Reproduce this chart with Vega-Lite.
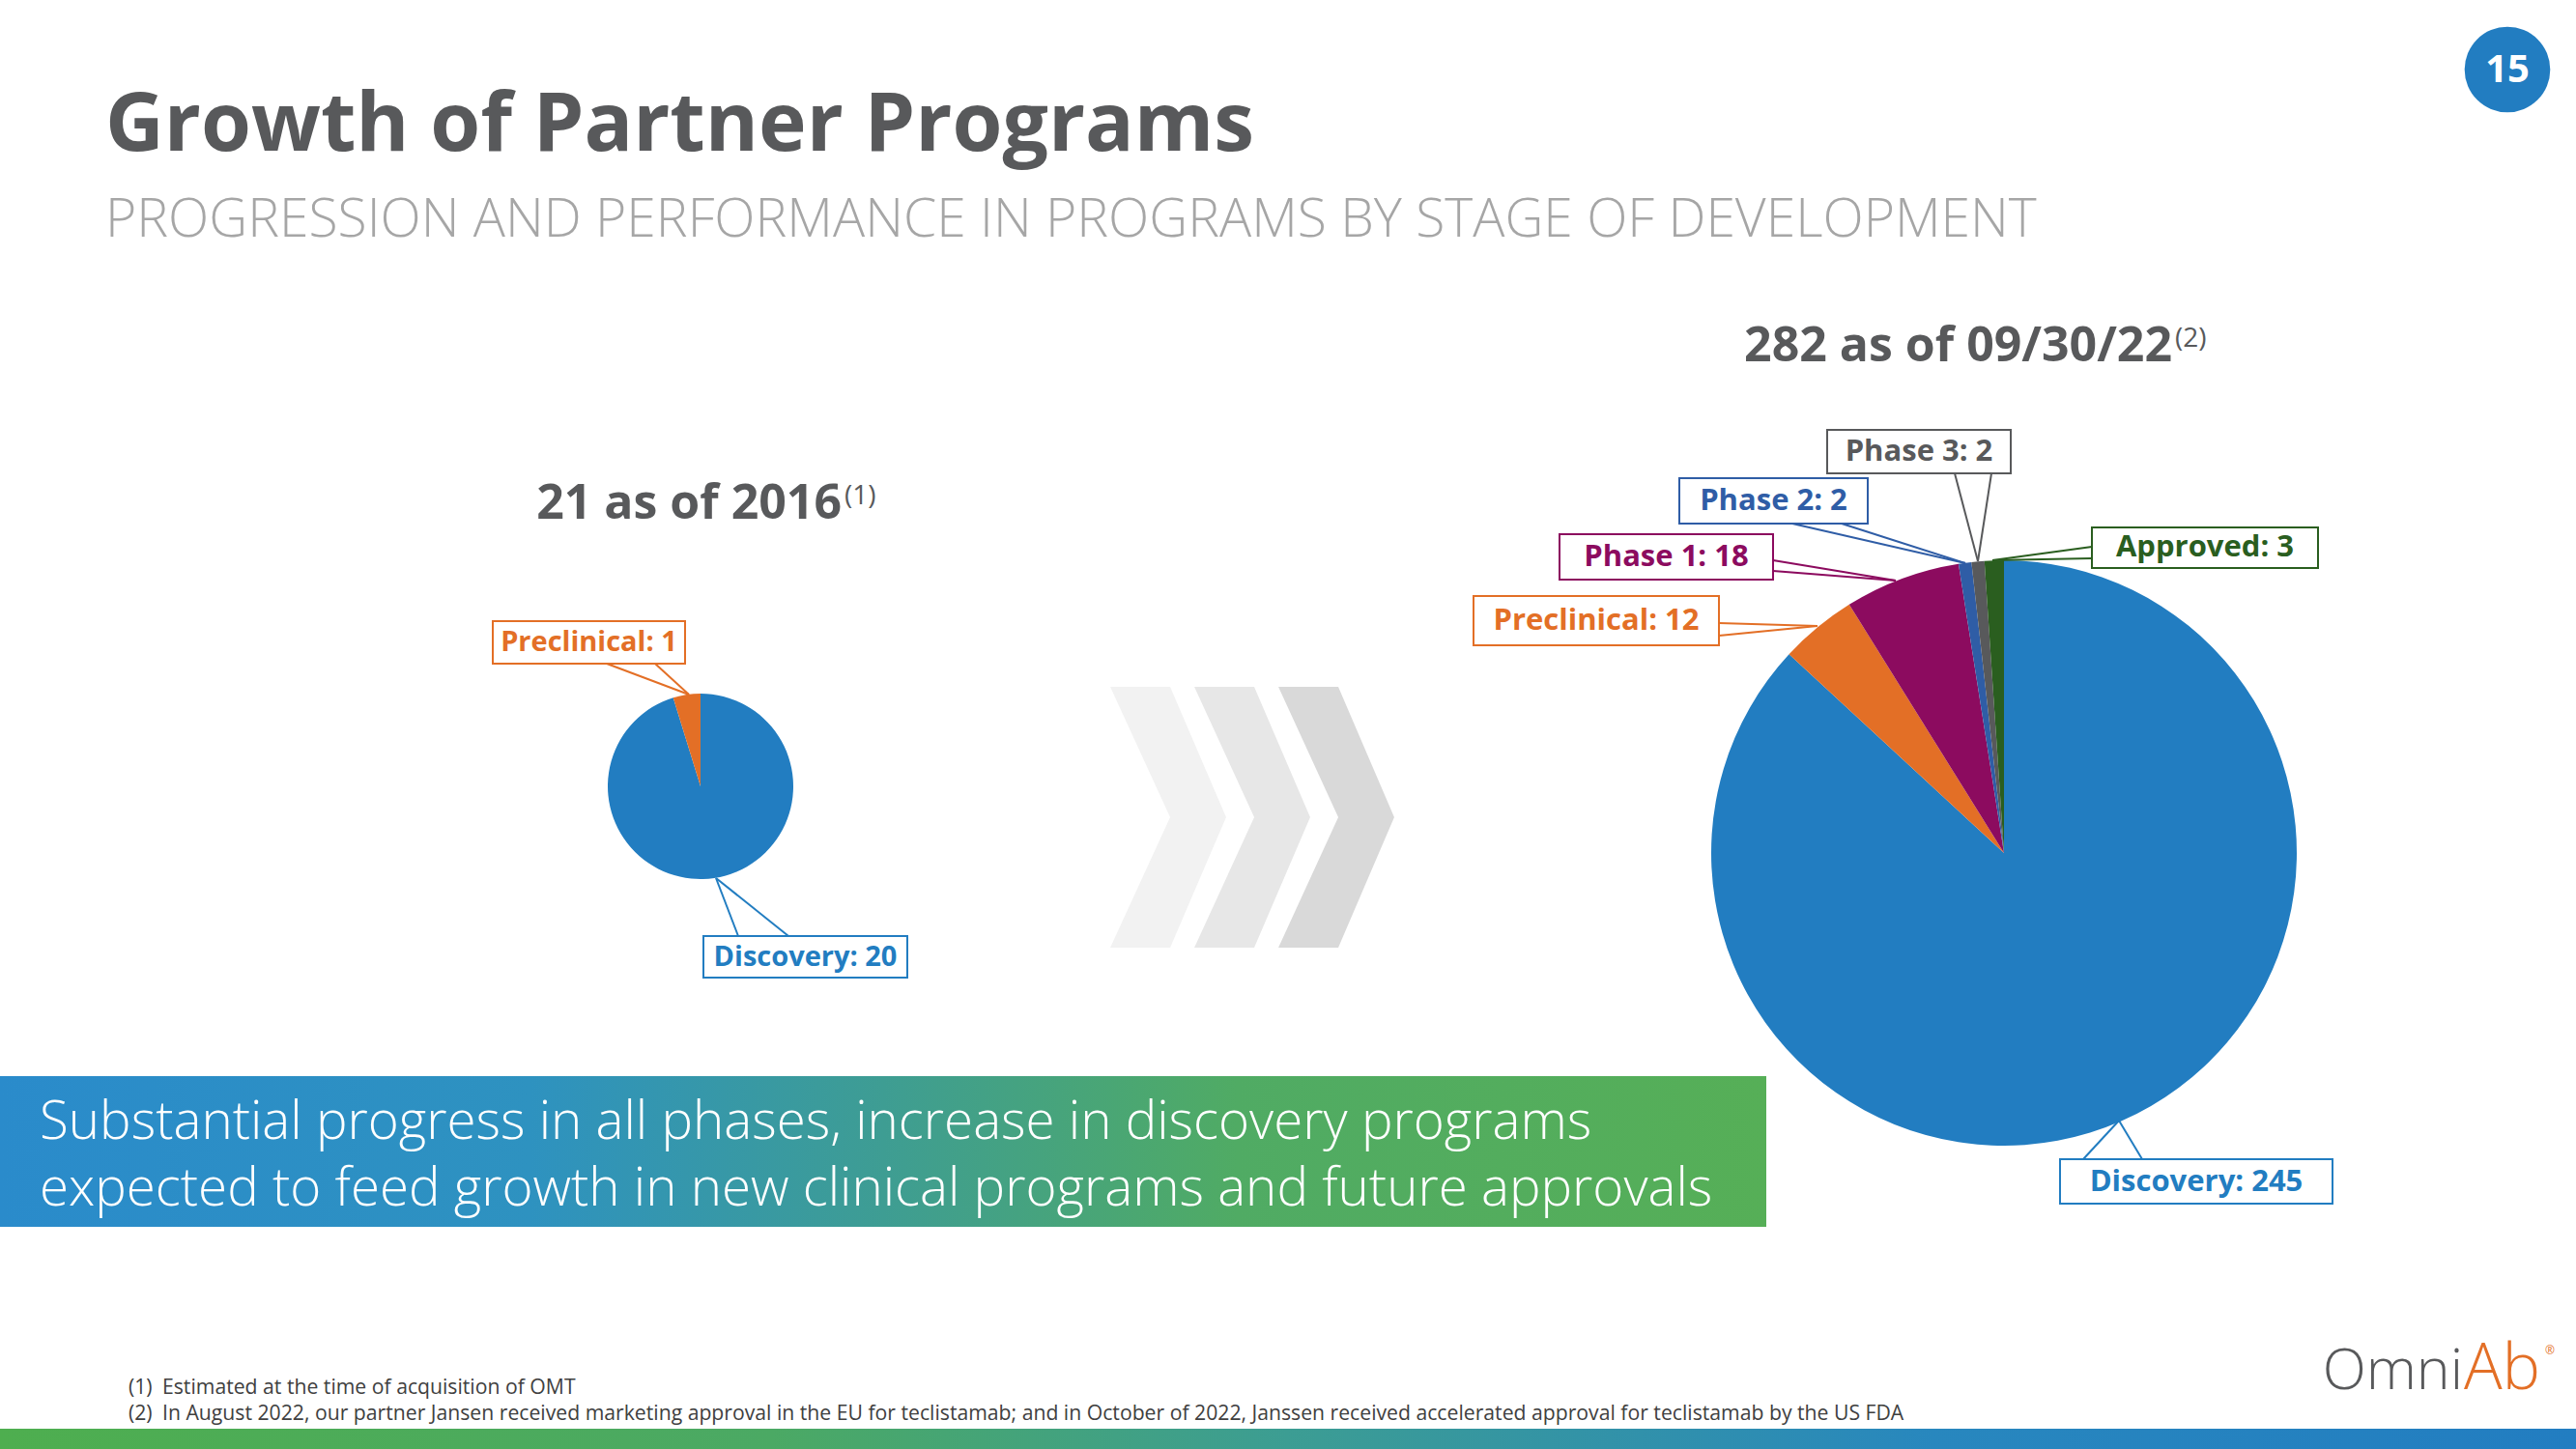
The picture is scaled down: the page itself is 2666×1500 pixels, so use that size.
{
  "$schema": "https://vega.github.io/schema/vega-lite/v6.json",
  "width": 2666,
  "height": 1500,
  "autosize": {"type": "fit", "contains": "padding"},
  "padding": 0,
  "background": "white",
  "config": {
    "view": {"stroke": null},
    "axis": {"disable": true},
    "legend": {"disable": true},
    "text": {"font": "Open Sans"}
  },
  "datasets": {
    "pies": [
      {"snapshot": "2016", "stage": "Discovery", "count": 20, "ord": 1, "label": "Discovery: 20"},
      {"snapshot": "2016", "stage": "Preclinical", "count": 1, "ord": 2, "label": "Preclinical: 1"},
      {"snapshot": "09/30/22", "stage": "Discovery", "count": 245, "ord": 1, "label": "Discovery: 245"},
      {"snapshot": "09/30/22", "stage": "Preclinical", "count": 12, "ord": 2, "label": "Preclinical: 12"},
      {"snapshot": "09/30/22", "stage": "Phase 1", "count": 18, "ord": 3, "label": "Phase 1: 18"},
      {"snapshot": "09/30/22", "stage": "Phase 2", "count": 2, "ord": 4, "label": "Phase 2: 2"},
      {"snapshot": "09/30/22", "stage": "Phase 3", "count": 2, "ord": 5, "label": "Phase 3: 2"},
      {"snapshot": "09/30/22", "stage": "Approved", "count": 3, "ord": 6, "label": "Approved: 3"}
    ]
  },
  "resolve": {"scale": {"theta": "independent"}},
  "layer": [
    {
      "data": {"values": [{}]},
      "mark": {"type": "rect", "color": {"gradient": "linear", "x1": 0, "x2": 1, "y1": 0, "y2": 0, "stops": [{"offset": 0, "color": "#4EAE4F"}, {"offset": 0.3, "color": "#4BA964"}, {"offset": 0.5, "color": "#3C9D93"}, {"offset": 0.75, "color": "#2887BE"}, {"offset": 1, "color": "#227DC1"}]}},
      "encoding": {
        "x": {"datum": 0, "type": "quantitative", "scale": {"domain": [0, 2666], "nice": false, "zero": false}},
        "x2": {"datum": 2666},
        "y": {"datum": 1479, "type": "quantitative", "scale": {"domain": [0, 1500], "nice": false, "zero": false, "reverse": true}},
        "y2": {"datum": 1500}
      }
    },
    {
      "data": {"values": [{}]},
      "mark": {"type": "text", "text": "Growth of Partner Programs", "fontWeight": "bold", "fontSize": 84, "color": "#58595B", "align": "left", "baseline": "alphabetic"},
      "encoding": {"x": {"datum": 109}, "y": {"datum": 156}}
    },
    {
      "data": {"values": [{}]},
      "mark": {"type": "text", "text": "PROGRESSION AND PERFORMANCE IN PROGRAMS BY STAGE OF DEVELOPMENT", "fontWeight": 300, "fontSize": 55.2, "color": "#A6A6A6", "align": "left", "baseline": "alphabetic"},
      "encoding": {"x": {"datum": 109}, "y": {"datum": 245}}
    },
    {
      "data": {"values": [{}]},
      "mark": {"type": "circle", "size": 7854, "color": "#227DC1", "opacity": 1},
      "encoding": {"x": {"datum": 2595}, "y": {"datum": 72}}
    },
    {
      "data": {"values": [{}]},
      "mark": {"type": "text", "text": "15", "fontWeight": "bold", "fontSize": 40, "color": "white", "align": "center", "baseline": "middle"},
      "encoding": {"x": {"datum": 2595}, "y": {"datum": 73}}
    },
    {
      "data": {"values": [{}]},
      "mark": {"type": "text", "text": "21 as of 2016", "fontWeight": "bold", "fontSize": 50, "color": "#58595B", "align": "right", "baseline": "alphabetic"},
      "encoding": {"x": {"datum": 871}, "y": {"datum": 537}}
    },
    {
      "data": {"values": [{}]},
      "mark": {"type": "text", "text": "(1)", "fontSize": 28, "color": "#58595B", "align": "left", "baseline": "alphabetic"},
      "encoding": {"x": {"datum": 874}, "y": {"datum": 522}}
    },
    {
      "data": {"values": [{}]},
      "mark": {"type": "text", "text": "282 as of 09/30/22", "fontWeight": "bold", "fontSize": 50, "color": "#58595B", "align": "right", "baseline": "alphabetic"},
      "encoding": {"x": {"datum": 2248}, "y": {"datum": 374}}
    },
    {
      "data": {"values": [{}]},
      "mark": {"type": "text", "text": "(2)", "fontSize": 28, "color": "#58595B", "align": "left", "baseline": "alphabetic"},
      "encoding": {"x": {"datum": 2251}, "y": {"datum": 359}}
    },
    {
      "data": {"values": [{}]},
      "mark": {"type": "point", "shape": "M -0.444,-1 L 0.015,-1 L 0.444,0 L 0.015,1 L -0.444,1 L 0.015,0 Z", "filled": true, "size": 72900, "color": "#F2F2F2", "opacity": 1, "strokeWidth": 0},
      "encoding": {"x": {"datum": 1209}, "y": {"datum": 846}}
    },
    {
      "data": {"values": [{}]},
      "mark": {"type": "point", "shape": "M -0.444,-1 L 0.015,-1 L 0.444,0 L 0.015,1 L -0.444,1 L 0.015,0 Z", "filled": true, "size": 72900, "color": "#E7E7E7", "opacity": 1, "strokeWidth": 0},
      "encoding": {"x": {"datum": 1296}, "y": {"datum": 846}}
    },
    {
      "data": {"values": [{}]},
      "mark": {"type": "point", "shape": "M -0.444,-1 L 0.015,-1 L 0.444,0 L 0.015,1 L -0.444,1 L 0.015,0 Z", "filled": true, "size": 72900, "color": "#D9D9D9", "opacity": 1, "strokeWidth": 0},
      "encoding": {"x": {"datum": 1383}, "y": {"datum": 846}}
    },
    {
      "data": {"values": [{}]},
      "mark": {"type": "rect", "color": {"gradient": "linear", "x1": 0, "x2": 1, "y1": 0, "y2": 0, "stops": [{"offset": 0, "color": "#2A8BCB"}, {"offset": 0.3, "color": "#2E92C0"}, {"offset": 0.5, "color": "#3E9D93"}, {"offset": 0.7, "color": "#50AB64"}, {"offset": 1, "color": "#56AF57"}]}},
      "encoding": {"x": {"datum": 0}, "x2": {"datum": 1828}, "y": {"datum": 1114}, "y2": {"datum": 1270}}
    },
    {
      "data": {"values": [{}]},
      "mark": {"type": "text", "text": "Substantial progress in all phases, increase in discovery programs", "fontWeight": 300, "fontSize": 54.7, "color": "white", "align": "left", "baseline": "alphabetic"},
      "encoding": {"x": {"datum": 41}, "y": {"datum": 1179}}
    },
    {
      "data": {"values": [{}]},
      "mark": {"type": "text", "text": "expected to feed growth in new clinical programs and future approvals", "fontWeight": 300, "fontSize": 54.7, "color": "white", "align": "left", "baseline": "alphabetic"},
      "encoding": {"x": {"datum": 41}, "y": {"datum": 1248}}
    },
    {
      "data": {"name": "pies"},
      "transform": [{"filter": "datum.snapshot === '2016'"}],
      "mark": {"type": "arc", "radius": 96},
      "encoding": {
        "x": {"datum": 725},
        "y": {"datum": 814},
        "theta": {"field": "count", "type": "quantitative", "stack": true},
        "order": {"field": "ord", "type": "quantitative"},
        "color": {"field": "stage", "type": "nominal", "scale": {"domain": ["Discovery", "Preclinical", "Phase 1", "Phase 2", "Phase 3", "Approved"], "range": ["#227DC1", "#E36F26", "#8C0B5F", "#2F5DA6", "#58595B", "#2A5E1F"]}, "legend": null}
      }
    },
    {
      "data": {"name": "pies"},
      "transform": [{"filter": "datum.snapshot === '09/30/22'"}],
      "mark": {"type": "arc", "radius": 303},
      "encoding": {
        "x": {"datum": 2074},
        "y": {"datum": 883},
        "theta": {"field": "count", "type": "quantitative", "stack": true},
        "order": {"field": "ord", "type": "quantitative"},
        "color": {"field": "stage", "type": "nominal", "scale": {"domain": ["Discovery", "Preclinical", "Phase 1", "Phase 2", "Phase 3", "Approved"], "range": ["#227DC1", "#E36F26", "#8C0B5F", "#2F5DA6", "#58595B", "#2A5E1F"]}, "legend": null}
      }
    },
    {
      "data": {"name": "pies"},
      "transform": [{"filter": "datum.snapshot === '2016' && datum.stage === 'Preclinical'"}],
      "encoding": {"color": {"field": "stage", "type": "nominal", "scale": {"domain": ["Discovery", "Preclinical", "Phase 1", "Phase 2", "Phase 3", "Approved"], "range": ["#227DC1", "#E36F26", "#8C0B5F", "#2F5DA6", "#58595B", "#2A5E1F"]}, "legend": null}},
      "layer": [
        {"mark": {"type": "rect", "filled": false, "strokeWidth": 2}, "encoding": {"x": {"datum": 510}, "x2": {"datum": 709}, "y": {"datum": 643}, "y2": {"datum": 687}}},
        {"mark": {"type": "rule", "strokeWidth": 2}, "encoding": {"x": {"datum": 628}, "y": {"datum": 687}, "x2": {"datum": 713}, "y2": {"datum": 719}}},
        {"mark": {"type": "rule", "strokeWidth": 2}, "encoding": {"x": {"datum": 678}, "y": {"datum": 687}, "x2": {"datum": 713}, "y2": {"datum": 719}}},
        {"mark": {"type": "text", "fontWeight": "bold", "fontSize": 29, "align": "center", "baseline": "middle"}, "encoding": {"x": {"datum": 609.5}, "y": {"datum": 665}, "text": {"field": "label"}}}
      ]
    },
    {
      "data": {"name": "pies"},
      "transform": [{"filter": "datum.snapshot === '2016' && datum.stage === 'Discovery'"}],
      "encoding": {"color": {"field": "stage", "type": "nominal", "scale": {"domain": ["Discovery", "Preclinical", "Phase 1", "Phase 2", "Phase 3", "Approved"], "range": ["#227DC1", "#E36F26", "#8C0B5F", "#2F5DA6", "#58595B", "#2A5E1F"]}, "legend": null}},
      "layer": [
        {"mark": {"type": "rect", "filled": false, "strokeWidth": 2}, "encoding": {"x": {"datum": 728}, "x2": {"datum": 939}, "y": {"datum": 969}, "y2": {"datum": 1012}}},
        {"mark": {"type": "rule", "strokeWidth": 2}, "encoding": {"x": {"datum": 764}, "y": {"datum": 969}, "x2": {"datum": 741}, "y2": {"datum": 909}}},
        {"mark": {"type": "rule", "strokeWidth": 2}, "encoding": {"x": {"datum": 816}, "y": {"datum": 969}, "x2": {"datum": 741}, "y2": {"datum": 909}}},
        {"mark": {"type": "text", "fontWeight": "bold", "fontSize": 29, "align": "center", "baseline": "middle"}, "encoding": {"x": {"datum": 833.5}, "y": {"datum": 991}, "text": {"field": "label"}}}
      ]
    },
    {
      "data": {"name": "pies"},
      "transform": [{"filter": "datum.snapshot === '09/30/22' && datum.stage === 'Phase 3'"}],
      "encoding": {"color": {"field": "stage", "type": "nominal", "scale": {"domain": ["Discovery", "Preclinical", "Phase 1", "Phase 2", "Phase 3", "Approved"], "range": ["#227DC1", "#E36F26", "#8C0B5F", "#2F5DA6", "#58595B", "#2A5E1F"]}, "legend": null}},
      "layer": [
        {"mark": {"type": "rect", "filled": false, "strokeWidth": 2}, "encoding": {"x": {"datum": 1891}, "x2": {"datum": 2081}, "y": {"datum": 445}, "y2": {"datum": 490}}},
        {"mark": {"type": "rule", "strokeWidth": 2}, "encoding": {"x": {"datum": 2023}, "y": {"datum": 490}, "x2": {"datum": 2047}, "y2": {"datum": 581}}},
        {"mark": {"type": "rule", "strokeWidth": 2}, "encoding": {"x": {"datum": 2061}, "y": {"datum": 490}, "x2": {"datum": 2047}, "y2": {"datum": 581}}},
        {"mark": {"type": "text", "fontWeight": "bold", "fontSize": 31, "align": "center", "baseline": "middle"}, "encoding": {"x": {"datum": 1986}, "y": {"datum": 468}, "text": {"field": "label"}}}
      ]
    },
    {
      "data": {"name": "pies"},
      "transform": [{"filter": "datum.snapshot === '09/30/22' && datum.stage === 'Phase 2'"}],
      "encoding": {"color": {"field": "stage", "type": "nominal", "scale": {"domain": ["Discovery", "Preclinical", "Phase 1", "Phase 2", "Phase 3", "Approved"], "range": ["#227DC1", "#E36F26", "#8C0B5F", "#2F5DA6", "#58595B", "#2A5E1F"]}, "legend": null}},
      "layer": [
        {"mark": {"type": "rect", "filled": false, "strokeWidth": 2}, "encoding": {"x": {"datum": 1738}, "x2": {"datum": 1933}, "y": {"datum": 495}, "y2": {"datum": 542}}},
        {"mark": {"type": "rule", "strokeWidth": 2}, "encoding": {"x": {"datum": 1855}, "y": {"datum": 542}, "x2": {"datum": 2034}, "y2": {"datum": 583}}},
        {"mark": {"type": "rule", "strokeWidth": 2}, "encoding": {"x": {"datum": 1906}, "y": {"datum": 542}, "x2": {"datum": 2034}, "y2": {"datum": 583}}},
        {"mark": {"type": "text", "fontWeight": "bold", "fontSize": 31, "align": "center", "baseline": "middle"}, "encoding": {"x": {"datum": 1835.5}, "y": {"datum": 519}, "text": {"field": "label"}}}
      ]
    },
    {
      "data": {"name": "pies"},
      "transform": [{"filter": "datum.snapshot === '09/30/22' && datum.stage === 'Phase 1'"}],
      "encoding": {"color": {"field": "stage", "type": "nominal", "scale": {"domain": ["Discovery", "Preclinical", "Phase 1", "Phase 2", "Phase 3", "Approved"], "range": ["#227DC1", "#E36F26", "#8C0B5F", "#2F5DA6", "#58595B", "#2A5E1F"]}, "legend": null}},
      "layer": [
        {"mark": {"type": "rect", "filled": false, "strokeWidth": 2}, "encoding": {"x": {"datum": 1614}, "x2": {"datum": 1835}, "y": {"datum": 553}, "y2": {"datum": 600}}},
        {"mark": {"type": "rule", "strokeWidth": 2}, "encoding": {"x": {"datum": 1835}, "y": {"datum": 580}, "x2": {"datum": 1962}, "y2": {"datum": 601}}},
        {"mark": {"type": "rule", "strokeWidth": 2}, "encoding": {"x": {"datum": 1835}, "y": {"datum": 591}, "x2": {"datum": 1962}, "y2": {"datum": 601}}},
        {"mark": {"type": "text", "fontWeight": "bold", "fontSize": 31, "align": "center", "baseline": "middle"}, "encoding": {"x": {"datum": 1724.5}, "y": {"datum": 577}, "text": {"field": "label"}}}
      ]
    },
    {
      "data": {"name": "pies"},
      "transform": [{"filter": "datum.snapshot === '09/30/22' && datum.stage === 'Preclinical'"}],
      "encoding": {"color": {"field": "stage", "type": "nominal", "scale": {"domain": ["Discovery", "Preclinical", "Phase 1", "Phase 2", "Phase 3", "Approved"], "range": ["#227DC1", "#E36F26", "#8C0B5F", "#2F5DA6", "#58595B", "#2A5E1F"]}, "legend": null}},
      "layer": [
        {"mark": {"type": "rect", "filled": false, "strokeWidth": 2}, "encoding": {"x": {"datum": 1525}, "x2": {"datum": 1779}, "y": {"datum": 617}, "y2": {"datum": 668}}},
        {"mark": {"type": "rule", "strokeWidth": 2}, "encoding": {"x": {"datum": 1779}, "y": {"datum": 645}, "x2": {"datum": 1881}, "y2": {"datum": 648}}},
        {"mark": {"type": "rule", "strokeWidth": 2}, "encoding": {"x": {"datum": 1779}, "y": {"datum": 658}, "x2": {"datum": 1881}, "y2": {"datum": 648}}},
        {"mark": {"type": "text", "fontWeight": "bold", "fontSize": 31, "align": "center", "baseline": "middle"}, "encoding": {"x": {"datum": 1652}, "y": {"datum": 643}, "text": {"field": "label"}}}
      ]
    },
    {
      "data": {"name": "pies"},
      "transform": [{"filter": "datum.snapshot === '09/30/22' && datum.stage === 'Approved'"}],
      "encoding": {"color": {"field": "stage", "type": "nominal", "scale": {"domain": ["Discovery", "Preclinical", "Phase 1", "Phase 2", "Phase 3", "Approved"], "range": ["#227DC1", "#E36F26", "#8C0B5F", "#2F5DA6", "#58595B", "#2A5E1F"]}, "legend": null}},
      "layer": [
        {"mark": {"type": "rect", "filled": false, "strokeWidth": 2}, "encoding": {"x": {"datum": 2165}, "x2": {"datum": 2399}, "y": {"datum": 546}, "y2": {"datum": 588}}},
        {"mark": {"type": "rule", "strokeWidth": 2}, "encoding": {"x": {"datum": 2165}, "y": {"datum": 566}, "x2": {"datum": 2062}, "y2": {"datum": 580}}},
        {"mark": {"type": "rule", "strokeWidth": 2}, "encoding": {"x": {"datum": 2165}, "y": {"datum": 578}, "x2": {"datum": 2062}, "y2": {"datum": 580}}},
        {"mark": {"type": "text", "fontWeight": "bold", "fontSize": 31, "align": "center", "baseline": "middle"}, "encoding": {"x": {"datum": 2282}, "y": {"datum": 567}, "text": {"field": "label"}}}
      ]
    },
    {
      "data": {"name": "pies"},
      "transform": [{"filter": "datum.snapshot === '09/30/22' && datum.stage === 'Discovery'"}],
      "encoding": {"color": {"field": "stage", "type": "nominal", "scale": {"domain": ["Discovery", "Preclinical", "Phase 1", "Phase 2", "Phase 3", "Approved"], "range": ["#227DC1", "#E36F26", "#8C0B5F", "#2F5DA6", "#58595B", "#2A5E1F"]}, "legend": null}},
      "layer": [
        {"mark": {"type": "rect", "filled": false, "strokeWidth": 2}, "encoding": {"x": {"datum": 2132}, "x2": {"datum": 2414}, "y": {"datum": 1200}, "y2": {"datum": 1246}}},
        {"mark": {"type": "rule", "strokeWidth": 2}, "encoding": {"x": {"datum": 2156}, "y": {"datum": 1200}, "x2": {"datum": 2193}, "y2": {"datum": 1160}}},
        {"mark": {"type": "rule", "strokeWidth": 2}, "encoding": {"x": {"datum": 2217}, "y": {"datum": 1200}, "x2": {"datum": 2193}, "y2": {"datum": 1160}}},
        {"mark": {"type": "text", "fontWeight": "bold", "fontSize": 31, "align": "center", "baseline": "middle"}, "encoding": {"x": {"datum": 2273}, "y": {"datum": 1224}, "text": {"field": "label"}}}
      ]
    },
    {
      "data": {"values": [{}]},
      "mark": {"type": "text", "text": "(1)", "fontSize": 21.2, "color": "#404040", "align": "left", "baseline": "alphabetic"},
      "encoding": {"x": {"datum": 133}, "y": {"datum": 1443}}
    },
    {
      "data": {"values": [{}]},
      "mark": {"type": "text", "text": "Estimated at the time of acquisition of OMT", "fontSize": 21.2, "color": "#404040", "align": "left", "baseline": "alphabetic"},
      "encoding": {"x": {"datum": 168}, "y": {"datum": 1443}}
    },
    {
      "data": {"values": [{}]},
      "mark": {"type": "text", "text": "(2)", "fontSize": 21.2, "color": "#404040", "align": "left", "baseline": "alphabetic"},
      "encoding": {"x": {"datum": 133}, "y": {"datum": 1470}}
    },
    {
      "data": {"values": [{}]},
      "mark": {"type": "text", "text": "In August 2022, our partner Jansen received marketing approval in the EU for teclistamab; and in October of 2022, Janssen received accelerated approval for teclistamab by the US FDA", "fontSize": 21.2, "color": "#404040", "align": "left", "baseline": "alphabetic"},
      "encoding": {"x": {"datum": 168}, "y": {"datum": 1470}}
    },
    {
      "data": {"values": [{}]},
      "mark": {"type": "text", "text": "Omni", "fontWeight": 300, "fontSize": 59, "color": "#58595B", "align": "right", "baseline": "alphabetic"},
      "encoding": {"x": {"datum": 2549}, "y": {"datum": 1438}}
    },
    {
      "data": {"values": [{}]},
      "mark": {"type": "text", "text": "Ab", "fontWeight": 300, "fontSize": 66, "color": "#E36F26", "align": "left", "baseline": "alphabetic"},
      "encoding": {"x": {"datum": 2550}, "y": {"datum": 1438}}
    },
    {
      "data": {"values": [{}]},
      "mark": {"type": "text", "text": "®", "fontSize": 12, "color": "#E36F26", "align": "left", "baseline": "alphabetic"},
      "encoding": {"x": {"datum": 2634}, "y": {"datum": 1402}}
    }
  ]
}
